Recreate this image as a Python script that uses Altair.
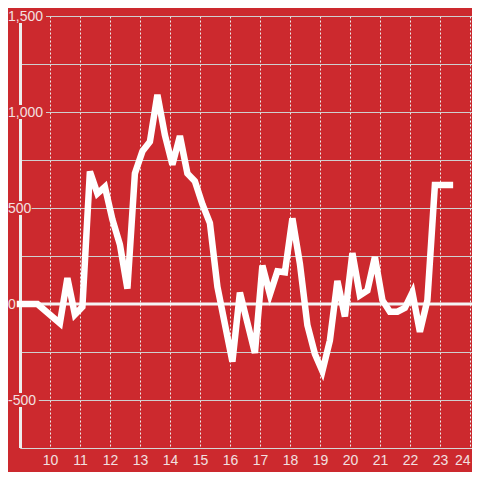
import altair as alt
import pandas as pd

# ---- data ----
x_vals = [9.0, 9.58, 10.33, 10.58, 10.83, 11.08, 11.33, 11.58, 11.83, 12.08, 12.33, 12.58,
          12.83, 13.08, 13.33, 13.58, 13.83, 14.08, 14.33, 14.58, 14.83, 15.08, 15.33, 15.58,
          16.08, 16.33, 16.83, 17.08, 17.33, 17.58, 17.83, 18.08, 18.33, 18.58, 18.83, 19.08,
          19.33, 19.58, 19.83, 20.08, 20.33, 20.58, 20.83, 21.08, 21.33, 21.58, 21.83, 22.08,
          22.33, 22.58, 22.83, 23.08, 23.33]
y_vals = [0, 0, -100, 135, -55, -15, 690, 575, 610, 440, 310, 80,
          680, 795, 845, 1090, 880, 725, 875, 680, 640, 520, 422, 90,
          -300, 60, -255, 200, 50, 170, 165, 446, 210, -110, -260, -350,
          -190, 120, -65, 265, 45, 70, 245, 20, -40, -40, -20, 60,
          -145, 20, 620, 620, 620]
y_label_values = [-500, 0, 500, 1000, 1500]
y_label_texts = ["-500", "0", "500", "1,000", "1,500"]
y_grid_values = [-750, -500, -250, 0, 250, 500, 750, 1000, 1250, 1500]
x_tick_values = [10, 11, 12, 13, 14, 15, 16, 17, 18, 19, 20, 21, 22, 23, 24]
x_domain = [9, 24.0667]
y_domain = [-750, 1500]

RED = "#cc292e"
FONT = "Liberation Sans"
LABEL_COLOR = "#f2e0e0"

df = pd.DataFrame({"x": x_vals, "y": y_vals})
lab = pd.DataFrame({"v": y_label_values, "label": y_label_texts})

xscale = alt.Scale(domain=x_domain, nice=False, zero=False)
yscale = alt.Scale(domain=y_domain, nice=False, zero=False)

x_axis = alt.Axis(values=x_tick_values, grid=True, gridDash=[2, 2], gridColor="#ececec",
                  gridOpacity=1, gridWidth=1, domainColor="#d6d6d6", domainWidth=1,
                  ticks=False, tickSize=0, labelPadding=5, labelFont=FONT, labelFontSize=14,
                  labelColor=LABEL_COLOR, title=None, labelFlush=False,
                  labelAlign=alt.condition("datum.value == 24", alt.value("right"), alt.value("center")))
y_axis = alt.Axis(values=y_grid_values, grid=True, gridColor="#cfcfcf", gridOpacity=1,
                  gridWidth=1, labels=False, ticks=False, domain=False, title=None)

# y axis line
axis_line = alt.Chart(df).mark_rule(color="#eeeeee", strokeWidth=3).encode(
    x=alt.value(0.5), y=alt.value(0), y2=alt.value(432)
)

# zero line
zero_line = alt.Chart(lab).transform_filter("datum.v == 0").mark_rule(
    color="#f4f4f4", strokeWidth=3
).encode(
    y=alt.Y("v:Q", scale=yscale, axis=y_axis),
    x=alt.value(-6), x2=alt.value(452),
)

# red backgrounds behind the y labels
label_bg = alt.Chart(lab).transform_calculate(
    x0="9 - 14/30",
    x1="9 + (-12 + length(datum.label) * 7.2 + 2) / 30",
    y0="datum.v - 36",
    y1="datum.v + 36",
).mark_rect(color=RED).encode(
    x=alt.X("x0:Q", scale=xscale, axis=x_axis),
    x2="x1:Q",
    y=alt.Y("y0:Q", scale=yscale, axis=y_axis),
    y2="y1:Q",
)

labels = alt.Chart(lab).mark_text(
    align="left", baseline="middle", font=FONT, fontSize=14, color=LABEL_COLOR, dy=1
).encode(
    x=alt.value(-12),
    y=alt.Y("v:Q", scale=yscale, axis=y_axis),
    text="label:N",
)

line = alt.Chart(df).mark_line(color="#ffffff", strokeWidth=6.5, strokeCap="square",
                               strokeJoin="miter").encode(
    x=alt.X("x:Q", scale=xscale, axis=x_axis),
    y=alt.Y("y:Q", scale=yscale, axis=y_axis),
)

chart = alt.layer(axis_line, zero_line, label_bg, labels, line).properties(
    width=452, height=432,
    autosize=alt.AutoSizeParams(type="none"),
    padding={"left": 12, "top": 8, "right": 0, "bottom": 24},
    background=RED,
).configure_view(stroke=None)

chart.save("out.html", embed_options={"renderer": "svg", "actions": False})
